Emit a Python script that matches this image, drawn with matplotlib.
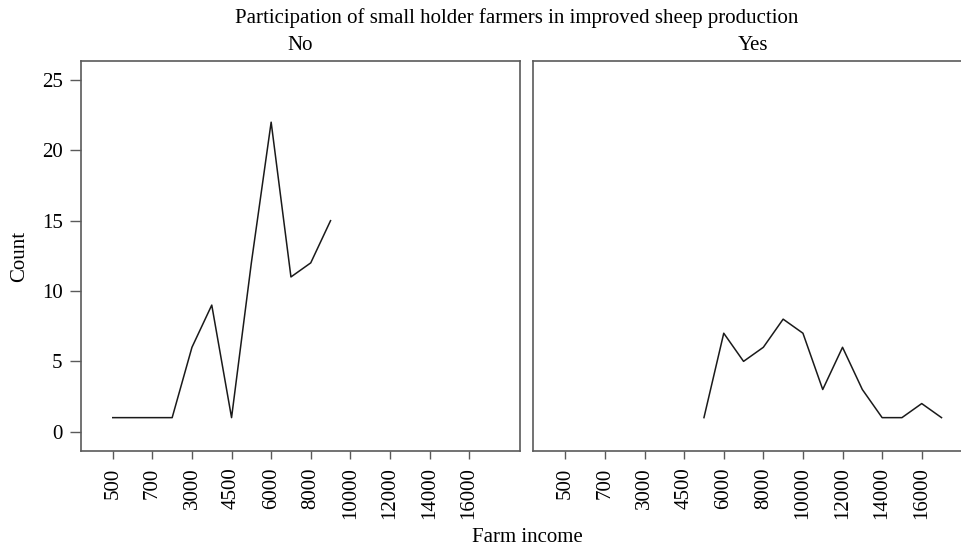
import matplotlib
matplotlib.use("Agg")
import matplotlib.pyplot as plt

# Data
categories = ['500', '600', '700', '2000', '3000', '4000', '4500', '5000', '6000', '7000',
              '8000', '9000', '10000', '11000', '12000', '13000', '14000', '15000', '16000', '17000']
no_categories = categories[0:12]
no_counts = [1, 1, 1, 1, 6, 9, 1, 12, 22, 11, 12, 15]
yes_categories = categories[7:20]
yes_counts = [1, 7, 5, 6, 8, 7, 3, 6, 3, 1, 1, 2, 1]
panel_titles = ['No', 'Yes']
y_ticks = [0, 5, 10, 15, 20, 25]

plt.rcParams['font.family'] = ['Liberation Serif', 'DejaVu Serif']

W, H = 962, 550
fig = plt.figure(figsize=(W / 100, H / 100), dpi=100)

def px_axes(x0, y0, x1, y1):
    return fig.add_axes([x0 / W, 1 - y1 / H, (x1 - x0) / W, (y1 - y0) / H])

ax1 = px_axes(80.7, 60.7, 520.0, 450.7)
ax2 = px_axes(533.3, 60.7, 972.6, 450.7)

pos = {c: i for i, c in enumerate(categories)}
spine_col = '#5a5a5a'
line_col = '#1a1a1a'
fs = 15

for ax, cats, vals, title in [(ax1, no_categories, no_counts, panel_titles[0]),
                              (ax2, yes_categories, yes_counts, panel_titles[1])]:
    ax.plot([pos[c] for c in cats], vals, color=line_col, lw=1.1)
    ax.set_xlim(-1.62, 20.57)
    ax.set_ylim(-1.35, 26.37)
    ax.set_xticks(range(0, len(categories), 2))
    ax.set_xticklabels(categories[::2], rotation=90, fontsize=fs)
    ax.tick_params(axis='x', length=6, width=1.0, color=spine_col, pad=6)
    for s in ax.spines.values():
        s.set_color(spine_col)
        s.set_linewidth(1.2)
    ax.text(0.5, 1.0 + 15 / 390, title, transform=ax.transAxes, ha='center', va='center', fontsize=fs)

ax1.set_yticks(y_ticks)
ax1.set_yticklabels([str(v) for v in y_ticks], fontsize=fs)
ax1.tick_params(axis='y', length=8, width=1.0, color=spine_col, pad=5)
ax2.set_yticks([])
ax2.spines['right'].set_visible(False)

fig.text(517 / W, 1 - 18 / H, 'Participation of small holder farmers in improved sheep production',
         ha='center', va='center', fontsize=fs)
fig.text(527 / W, 1 - 537 / H, 'Farm income', ha='center', va='center', fontsize=fs)
fig.text(20 / W, 1 - 256 / H, 'Count', ha='center', va='center', rotation=90, fontsize=fs)

fig.savefig('out.png', dpi=100)
